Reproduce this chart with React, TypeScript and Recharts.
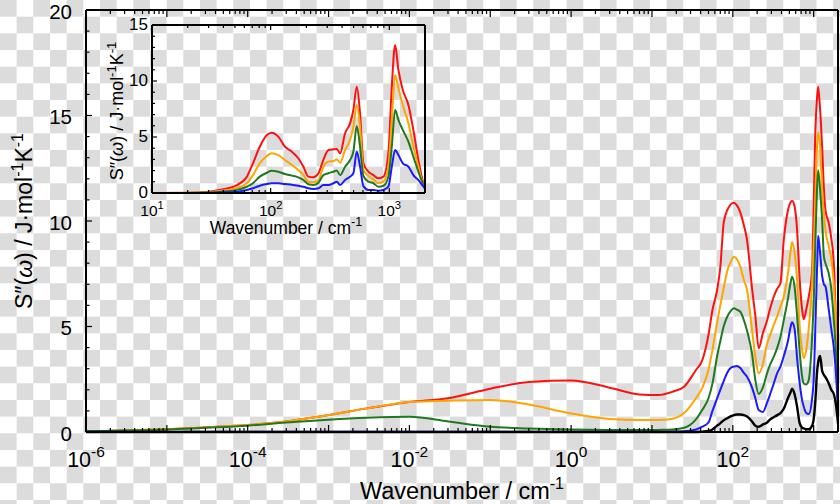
import { LineChart, Line, XAxis, YAxis } from "recharts";

// main plot: S''(w) over 1e-6 .. 2000 cm-1
const mainWavenumber = [
  1e-6, 3e-6, 1e-5, 3e-5, 1e-4, 3e-4, 1e-3, 3e-3, 0.01, 0.03, 0.1, 0.3, 1, 3, 7,
  12, 18, 25, 35, 42, 50, 56, 64, 70, 77,
  85, 95, 103, 112, 124, 137, 150, 173, 190, 209,
  235, 266, 290, 321, 355, 388, 427, 480, 520, 541,
  580, 624, 672, 720, 754, 810, 869, 957, 1000, 1050,
  1100, 1136, 1200, 1273, 1340, 1400, 1538, 1650, 1774, 1900, 2000,
];
const mainRed = [
  0.03, 0.07, 0.13, 0.22, 0.33, 0.5, 0.8, 1.12, 1.42, 1.6, 2.05, 2.37, 2.44, 2.1, 1.78,
  1.75, 1.91, 2.15, 2.94, 3.41, 4.6, 5.78, 6.73, 7.8, 9.9,
  10.5, 10.8, 10.87, 10.75, 10.4, 9.8, 9.1, 6.8, 5.5, 3.97,
  4.68, 5.3, 5.86, 6.41, 6.8, 7.05, 9.1, 10.5, 10.9, 10.96,
  10.7, 9.57, 7.2, 5.8, 5.34, 5.8, 6.41, 7.68, 10.7, 14.3,
  15.8, 16.36, 15.3, 13.5, 11.5, 10.5, 9.9, 9.2, 8.0, 4.5, 1.2,
];
const mainOrange = [
  0.03, 0.07, 0.13, 0.22, 0.33, 0.5, 0.8, 1.12, 1.42, 1.48, 1.52, 1.3, 0.88, 0.62, 0.57,
  0.57, 0.63, 0.9, 1.6, 2.1, 2.95, 3.9, 5.2, 6.0, 6.8,
  7.6, 8.1, 8.3, 8.2, 7.83, 7.2, 6.73, 4.83, 3.57, 2.78,
  3.2, 4.2, 4.6, 5.07, 5.5, 5.94, 6.41, 7.5, 8.6, 9.0,
  8.5, 7.2, 5.0, 3.89, 3.5, 3.9, 4.9, 7.05, 8.78, 11.15,
  13.5, 14.2, 13.6, 11.5, 10.3, 9.57, 8.78, 8.2, 7.0, 4.5, 1.5,
];
const mainGreen = [
  0.03, 0.07, 0.12, 0.2, 0.3, 0.45, 0.58, 0.67, 0.72, 0.5, 0.25, 0.17, 0.12, 0.1, 0.09,
  0.1, 0.12, 0.2, 0.6, 1.05, 1.6, 2.3, 3.6, 4.3, 5.0,
  5.45, 5.75, 5.86, 5.8, 5.7, 5.3, 4.8, 3.7, 2.46, 1.8,
  2.1, 2.8, 3.2, 3.57, 4.0, 4.5, 5.3, 6.3, 7.1, 7.36,
  6.9, 5.5, 3.8, 2.62, 2.3, 2.25, 2.46, 4.5, 6.1, 9.0,
  11.5, 12.4, 11.5, 10.05, 8.3, 8.0, 7.5, 6.8, 5.3, 3.5, 1.2,
];
const mainBlue = [
  0.01, 0.01, 0.01, 0.01, 0.01, 0.01, 0.01, 0.01, 0.01, 0.01, 0.01, 0.01, 0.01, 0.01, 0.01,
  0.01, 0.02, 0.03, 0.12, 0.25, 0.45, 1.0, 1.6, 2.0, 2.4,
  2.8, 3.05, 3.1, 3.13, 3.03, 2.8, 2.62, 2.1, 1.6, 1.04,
  0.95, 1.4, 1.8, 2.3, 2.8, 3.1, 3.6, 4.3, 5.0, 5.2,
  4.9, 3.5, 2.3, 1.5, 1.2, 0.9, 0.85, 1.6, 2.46, 5.0,
  7.68, 9.3, 8.5, 7.4, 7.0, 6.9, 5.8, 4.9, 4.0, 2.6, 1.0,
];
const mainBlack = [
  0, 0, 0, 0, 0, 0, 0, 0, 0, 0, 0, 0, 0, 0, 0,
  0, 0, 0, 0, 0.02, 0.05, 0.12, 0.3, 0.41, 0.55,
  0.65, 0.75, 0.8, 0.83, 0.83, 0.8, 0.73, 0.5, 0.3, 0.25,
  0.35, 0.45, 0.6, 0.7, 0.8, 0.9, 1.1, 1.6, 1.9, 2.05,
  1.8, 1.2, 0.41, 0.2, 0.17, 0.13, 0.13, 0.3, 0.6, 1.5,
  2.8, 3.3, 3.6, 2.9, 2.7, 2.6, 2.3, 2.0, 1.8, 1.2, 0.4,
];

// inset: 10 .. 2000 cm-1
const insetWavenumber = [
  10, 20, 30, 37, 52, 63, 71, 81, 93, 102,
  116, 132, 151, 171, 189, 208, 229, 253, 278, 307,
  338, 361, 385, 424, 467, 498, 532, 567, 605, 667,
  735, 810, 892, 982, 1050, 1120, 1194, 1300, 1449, 1596,
  1758, 1940, 2000,
];
const insetRed = [
  0, 0.02, 0.12, 0.27, 0.71, 1.46, 2.65, 4.13, 5.18, 5.39,
  5.03, 4.13, 3.69, 3.1, 2.35, 1.46, 1.4, 1.76, 2.95, 3.84,
  3.9, 3.93, 3.54, 5.33, 6.22, 7.41, 9.49, 7.1, 2.65, 1.9,
  1.6, 1.31, 1.46, 3.54, 9.49, 13.21, 10.98, 9.2, 7.86, 5.63,
  2.95, 0.87, 0.5,
];
const insetOrange = [
  0, 0.01, 0.08, 0.18, 0.45, 0.87, 1.6, 2.65, 3.3, 3.54,
  3.39, 2.95, 2.5, 2.05, 1.6, 1.01, 0.95, 1.16, 2.35, 2.8,
  2.85, 3.0, 2.71, 3.84, 4.73, 5.92, 7.86, 5.92, 2.05, 1.52,
  1.22, 0.87, 1.01, 2.35, 6.52, 10.54, 9.35, 7.86, 6.22, 4.13,
  2.35, 0.71, 0.4,
];
const insetGreen = [
  0, 0, 0.04, 0.1, 0.28, 0.56, 0.87, 1.46, 1.81, 1.99,
  1.9, 1.7, 1.55, 1.4, 1.16, 0.78, 0.71, 0.92, 1.6, 1.76,
  1.9, 2.0, 1.6, 2.35, 2.95, 3.69, 5.98, 4.13, 1.52, 1.01,
  0.87, 0.56, 0.65, 1.46, 4.13, 7.41, 6.52, 5.63, 4.58, 3.24,
  1.9, 0.71, 0.4,
];
const insetBlue = [
  0, 0, 0.02, 0.05, 0.12, 0.27, 0.42, 0.65, 0.8, 0.87,
  0.87, 0.8, 0.74, 0.65, 0.56, 0.42, 0.36, 0.42, 0.71, 0.71,
  0.87, 1.01, 0.71, 1.16, 1.46, 1.76, 3.69, 2.35, 0.61, 0.27,
  0.27, 0.2, 0.27, 0.56, 2.35, 3.84, 3.39, 2.65, 2.35, 1.6,
  1.16, 0.56, 0.4,
];

const mainXLabelExps = [-6, -4, -2, 0, 2];
const mainYTicks = [0, 1, 2, 3, 4, 5, 6, 7, 8, 9, 10, 11, 12, 13, 14, 15, 16, 17, 18, 19, 20];
const mainYLabels = [0, 5, 10, 15, 20];
const insetXLabelExps = [1, 2, 3];
const insetYTicks = [0, 1, 2, 3, 4, 5, 6, 7, 8, 9, 10, 11, 12, 13, 14, 15];
const insetYLabels = [0, 5, 10, 15];

const FONT = "'Liberation Sans', Arial, Helvetica, sans-serif";
const RED = "#ff1010";
const ORANGE = "#ffa500";
const GREEN = "#1f7a1f";
const BLUE = "#1a1aff";

// 1..9 x 10^e ticks up to maxVal
function logTicks(minExp: number, maxVal: number) {
  const out: number[] = [];
  for (let e = minExp; e < 6; e++) {
    for (let d = 1; d <= 9; d++) {
      const v = d * Math.pow(10, e);
      if (v > maxVal * 1.0001) return out;
      out.push(v);
    }
  }
  return out;
}

function makeXTick(side: "bottom" | "top", labels: number[], major: number, minor: number, fs: number, labelDy: number) {
  return (props: any) => {
    const { x, y, payload } = props;
    const e = Math.log10(payload.value);
    const isMajor = Math.abs(e - Math.round(e)) < 1e-6;
    const len = isMajor ? major : minor;
    const dir = side === "bottom" ? -1 : 1;
    const showLabel = side === "bottom" && isMajor && labels.includes(Math.round(e));
    return (
      <g>
        <line x1={x} y1={y} x2={x} y2={y + dir * len} stroke="#000" strokeWidth={1.2} />
        {showLabel && (
          <text x={x} y={y + labelDy} textAnchor="middle" fontSize={fs} fontFamily={FONT} fill="#000">
            <tspan>10</tspan>
            <tspan dy={-fs * 0.45} fontSize={fs * 0.72}>{Math.round(e)}</tspan>
          </text>
        )}
      </g>
    );
  };
}

function makeYTick(side: "left" | "right", labels: number[], major: number, minor: number, fs: number, gap: number, base: number) {
  return (props: any) => {
    const { x, y, payload } = props;
    const v = payload.value;
    const isMajor = labels.includes(v);
    const len = isMajor ? major : minor;
    const dir = side === "left" ? 1 : -1;
    return (
      <g>
        <line x1={x} y1={y} x2={x + dir * len} y2={y} stroke="#000" strokeWidth={1.2} />
        {side === "left" && isMajor && (
          <text x={x - gap} y={y + fs * base} textAnchor="end" fontSize={fs} fontFamily={FONT} fill="#000">
            {v}
          </text>
        )}
      </g>
    );
  };
}

const mainData = mainWavenumber.map((w, i) => ({
  w,
  red: mainRed[i],
  orange: mainOrange[i],
  green: mainGreen[i],
  blue: mainBlue[i],
  black: mainBlack[i],
}));

const insetData = insetWavenumber.map((w, i) => ({
  w,
  red: insetRed[i],
  orange: insetOrange[i],
  green: insetGreen[i],
  blue: insetBlue[i],
}));

const mainXTicks = logTicks(-6, 2000);
const insetXTicks = logTicks(1, 2000);
const axisLine = { stroke: "#000", strokeWidth: 2 };

export default function App() {
  return (
    <div
      style={{
        position: "absolute",
        left: 0,
        top: 0,
        width: 840,
        height: 504,
        overflow: "hidden",
        background: "repeating-conic-gradient(#ffffff 0% 25%, #dcdcdc 0% 50%) 0 0 / 33.33px 33.33px",
      }}
    >
      {/* main chart */}
      <div style={{ position: "absolute", left: 0, top: 0 }}>
        <LineChart width={840} height={504} data={mainData} margin={{ top: 9, right: 1, left: 0, bottom: 71 }}>
          <XAxis
            dataKey="w"
            type="number"
            scale="log"
            domain={[1e-6, 2000]}
            allowDataOverflow
            ticks={mainXTicks}
            interval={0}
            height={1}
            tickSize={0}
            tickMargin={0}
            tickLine={false}
            axisLine={axisLine}
            tick={makeXTick("bottom", mainXLabelExps, 7, 4, 21.5, 35)}
          />
          <XAxis
            xAxisId="top"
            orientation="top"
            dataKey="w"
            type="number"
            scale="log"
            domain={[1e-6, 2000]}
            allowDataOverflow
            ticks={mainXTicks}
            interval={0}
            height={1}
            tickSize={0}
            tickMargin={0}
            tickLine={false}
            axisLine={axisLine}
            tick={makeXTick("top", mainXLabelExps, 7, 4, 21.5, 0)}
          />
          <YAxis
            type="number"
            domain={[0, 20]}
            ticks={mainYTicks}
            interval={0}
            width={86}
            tickSize={0}
            tickMargin={0}
            tickLine={false}
            axisLine={axisLine}
            tick={makeYTick("left", mainYLabels, 6, 3.5, 20.5, 14, 0.43)}
          />
          <YAxis
            yAxisId="right"
            orientation="right"
            type="number"
            domain={[0, 20]}
            ticks={mainYTicks}
            interval={0}
            width={1}
            tickSize={0}
            tickMargin={0}
            tickLine={false}
            axisLine={axisLine}
            tick={makeYTick("right", mainYLabels, 6, 3.5, 20.5, 0, 0.43)}
          />
          <Line type="monotone" dataKey="red" stroke={RED} strokeWidth={2} dot={false} isAnimationActive={false} />
          <Line type="monotone" dataKey="orange" stroke={ORANGE} strokeWidth={2} dot={false} isAnimationActive={false} />
          <Line type="monotone" dataKey="green" stroke={GREEN} strokeWidth={2} dot={false} isAnimationActive={false} />
          <Line type="monotone" dataKey="blue" stroke={BLUE} strokeWidth={2} dot={false} isAnimationActive={false} />
          <Line type="monotone" dataKey="black" stroke="#000" strokeWidth={2.4} dot={false} isAnimationActive={false} />
        </LineChart>
      </div>

      {/* inset */}
      <div style={{ position: "absolute", left: 0, top: 0 }}>
        <LineChart width={440} height={240} data={insetData} margin={{ top: 24, right: 14, left: 0, bottom: 46 }}>
          <XAxis
            dataKey="w"
            type="number"
            scale="log"
            domain={[10, 2000]}
            allowDataOverflow
            ticks={insetXTicks}
            interval={0}
            height={1}
            tickSize={0}
            tickMargin={0}
            tickLine={false}
            axisLine={axisLine}
            tick={makeXTick("bottom", insetXLabelExps, 5, 3, 15.5, 23)}
          />
          <XAxis
            xAxisId="top"
            orientation="top"
            dataKey="w"
            type="number"
            scale="log"
            domain={[10, 2000]}
            allowDataOverflow
            ticks={insetXTicks}
            interval={0}
            height={1}
            tickSize={0}
            tickMargin={0}
            tickLine={false}
            axisLine={axisLine}
            tick={makeXTick("top", insetXLabelExps, 5, 3, 15.5, 0)}
          />
          <YAxis
            type="number"
            domain={[0, 15]}
            ticks={insetYTicks}
            interval={0}
            width={152}
            tickSize={0}
            tickMargin={0}
            tickLine={false}
            axisLine={axisLine}
            tick={makeYTick("left", insetYLabels, 5, 3, 17, 4, 0.32)}
          />
          <YAxis
            yAxisId="right"
            orientation="right"
            type="number"
            domain={[0, 15]}
            ticks={insetYTicks}
            interval={0}
            width={1}
            tickSize={0}
            tickMargin={0}
            tickLine={false}
            axisLine={axisLine}
            tick={makeYTick("right", insetYLabels, 5, 3, 17, 0, 0.32)}
          />
          <Line type="monotone" dataKey="red" stroke={RED} strokeWidth={2} dot={false} isAnimationActive={false} />
          <Line type="monotone" dataKey="orange" stroke={ORANGE} strokeWidth={2} dot={false} isAnimationActive={false} />
          <Line type="monotone" dataKey="green" stroke={GREEN} strokeWidth={2} dot={false} isAnimationActive={false} />
          <Line type="monotone" dataKey="blue" stroke={BLUE} strokeWidth={2} dot={false} isAnimationActive={false} />
        </LineChart>
      </div>

      {/* axis titles */}
      <svg width={840} height={504} style={{ position: "absolute", left: 0, top: 0, pointerEvents: "none" }}>
        <text x={462} y={499} textAnchor="middle" fontSize={23.5} fontFamily={FONT} fill="#000">
          Wavenumber / cm<tspan dy={-10} fontSize={16}>-1</tspan>
        </text>
        <text transform="translate(32,221) rotate(-90)" textAnchor="middle" fontSize={23} fontFamily={FONT} fill="#000">
          S″(<tspan fontStyle="italic">ω</tspan>) / J·mol<tspan dy={-9} fontSize={16}>-1</tspan>
          <tspan dy={9}>K</tspan>
          <tspan dy={-9} fontSize={16}>-1</tspan>
        </text>
        <text x={286} y={234} textAnchor="middle" fontSize={17.5} fontFamily={FONT} fill="#000">
          Wavenumber / cm<tspan dy={-8} fontSize={12.5}>-1</tspan>
        </text>
        <text transform="translate(123,111) rotate(-90)" textAnchor="middle" fontSize={18} fontFamily={FONT} fill="#000">
          S″(<tspan fontStyle="italic">ω</tspan>) / J·mol<tspan dy={-7} fontSize={13}>-1</tspan>
          <tspan dy={7}>K</tspan>
          <tspan dy={-7} fontSize={13}>-1</tspan>
        </text>
      </svg>
    </div>
  );
}
